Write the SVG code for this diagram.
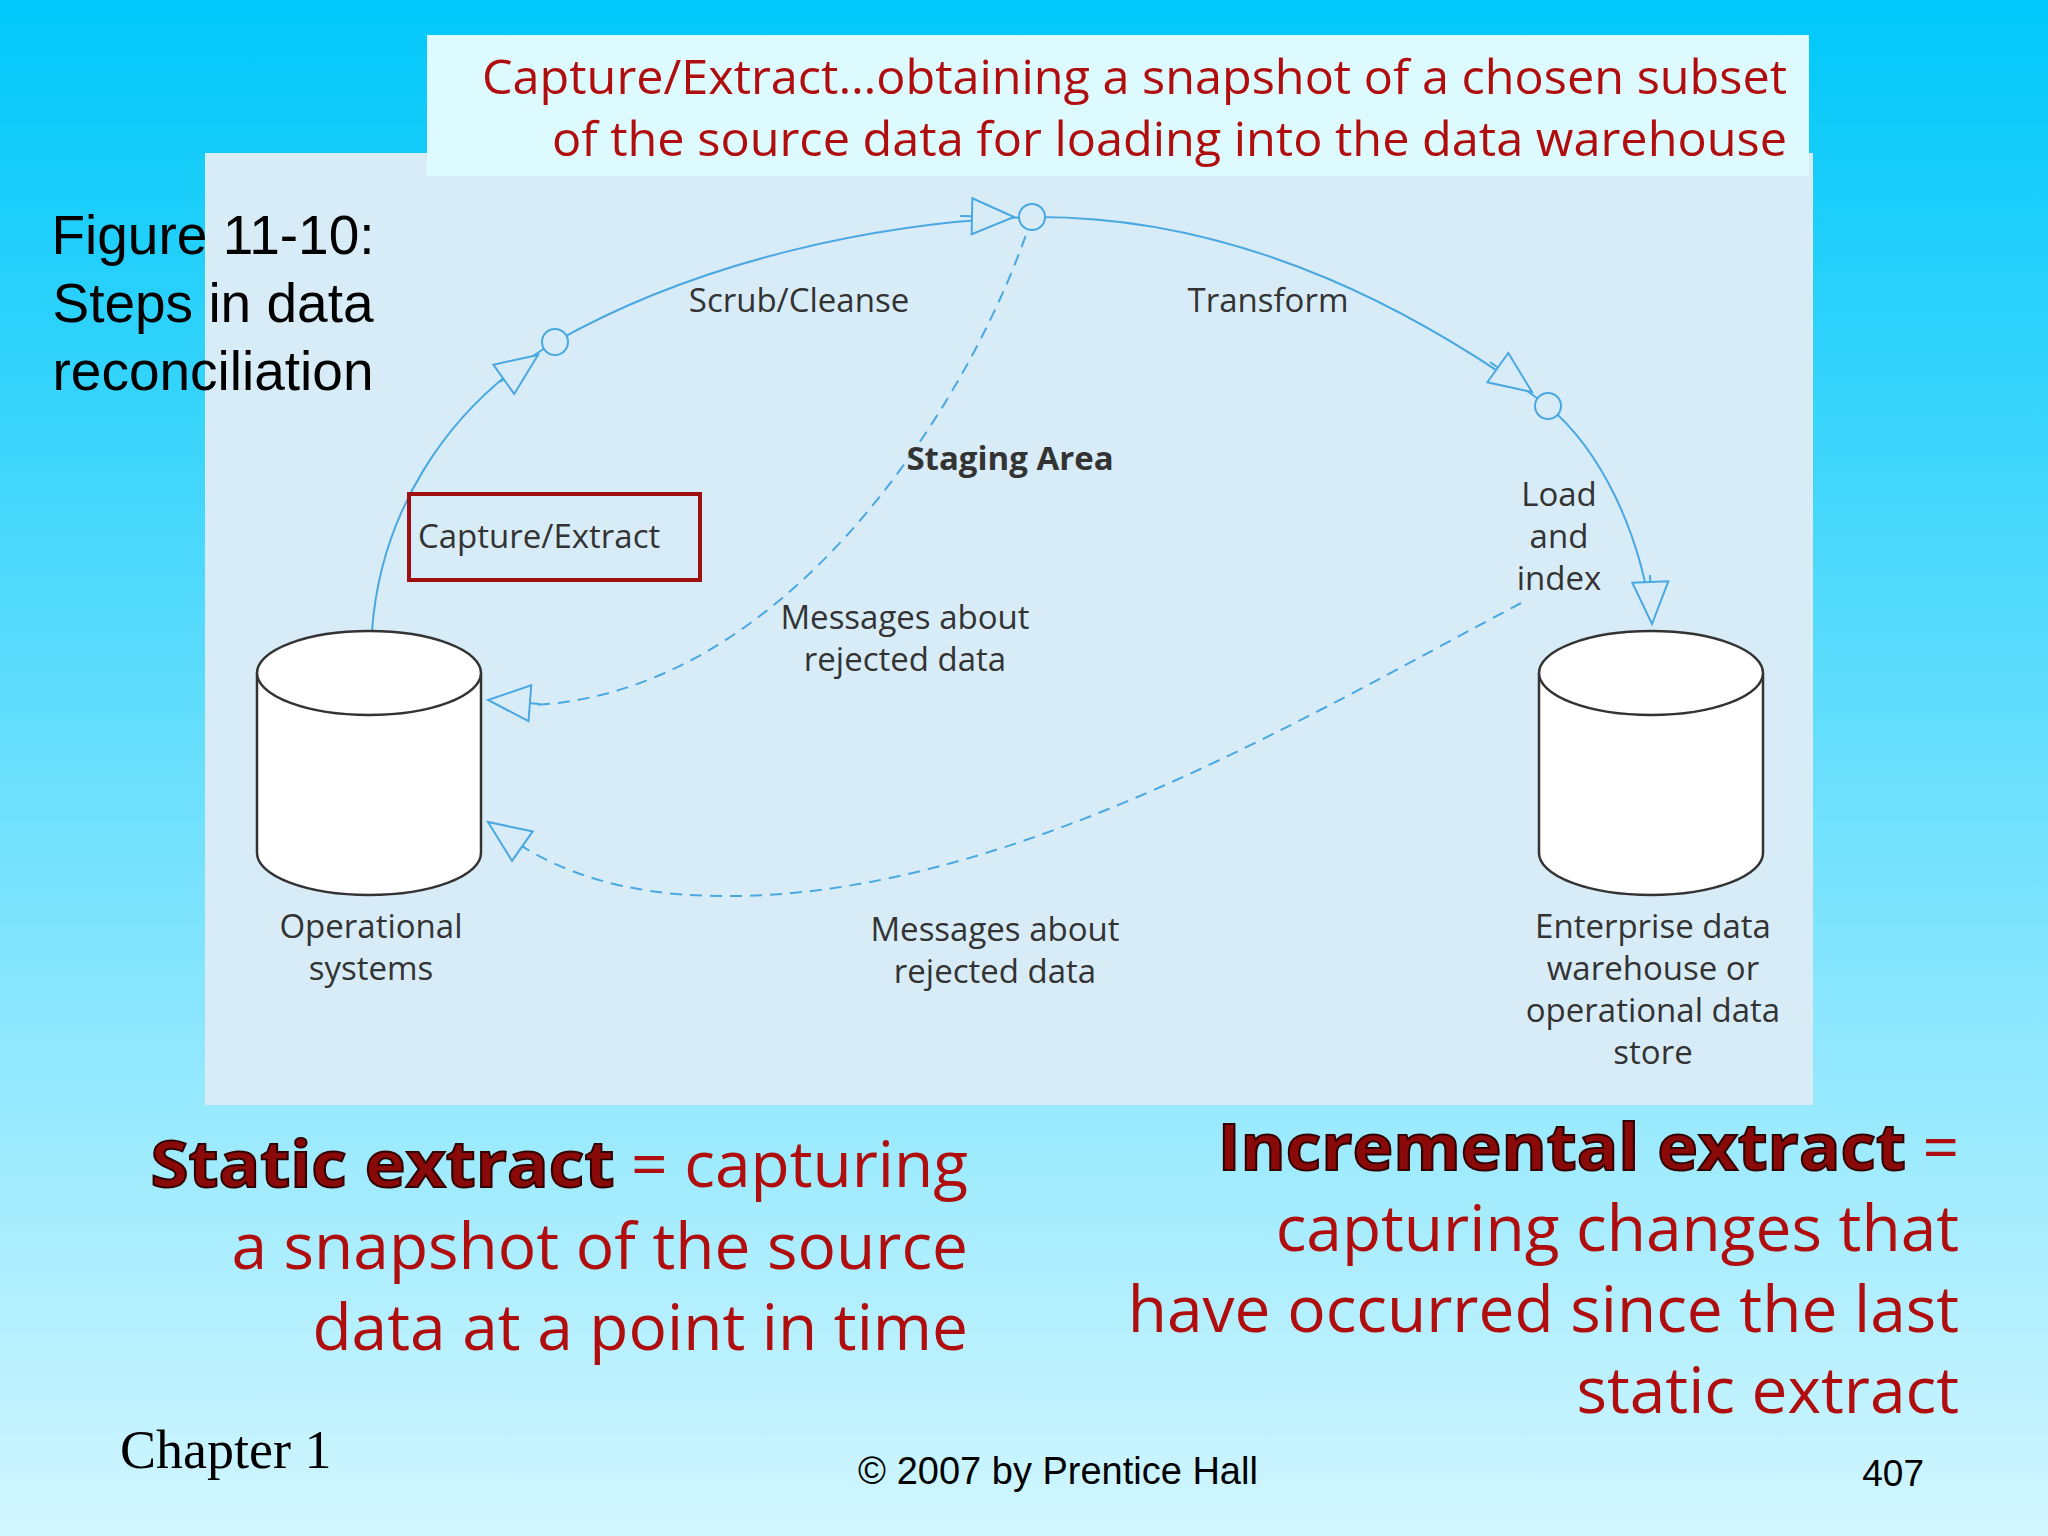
<svg xmlns="http://www.w3.org/2000/svg" width="2048" height="1536" viewBox="0 0 2048 1536">
<defs>
<linearGradient id="bg" x1="0" y1="0" x2="0" y2="1">
<stop offset="0" stop-color="#00C8FA"/><stop offset="1" stop-color="#D2F6FF"/>
</linearGradient>
<marker id="tri" markerUnits="userSpaceOnUse" markerWidth="48" markerHeight="40" refX="42" refY="18" orient="auto" viewBox="-2 -2 48 40">
<path d="M0,0 L42,18 L0,36 Z" fill="#D8ECF8" stroke="#4AA8E0" stroke-width="2"/>
</marker>
<style>
.ln{fill:none;stroke:#4AA8E0;stroke-width:2}
.ds{fill:none;stroke:#4AA8E0;stroke-width:2;stroke-dasharray:12 8}
.lb{font-family:"Open Sans","DejaVu Sans",sans-serif;font-size:33px;fill:#333}
.red{font-family:"Open Sans","Noto Sans",sans-serif;fill:#B00E0E}
.cyl{fill:#fff;stroke:#333;stroke-width:2.5}
.bd{font-weight:bold;fill:#8A0A0A;stroke:#300;stroke-width:2}
</style>
</defs>
<rect width="2048" height="1536" fill="url(#bg)"/>
<rect x="205" y="153" width="1608" height="952" fill="#D8ECF8"/>
<rect x="427" y="35" width="1382" height="141" fill="#DDFAFF"/>
<g id="title" class="red" font-size="48" text-anchor="end">
<text x="1787" y="94" textLength="1305" lengthAdjust="spacingAndGlyphs">Capture/Extract…obtaining a snapshot of a chosen subset</text>
<text x="1787" y="156" textLength="1235" lengthAdjust="spacingAndGlyphs">of the source data for loading into the data warehouse</text>
</g>
<g id="figure" font-family="Liberation Sans,Arial,sans-serif" font-size="55" fill="#000" text-anchor="middle">
<text x="213" y="254">Figure 11-10:</text>
<text x="213" y="322">Steps in data</text>
<text x="213" y="390">reconciliation</text>
</g>
<g id="connectors">
<path class="ln" d="M372,631 C380,520 440,410 555,342 C700,260 880,222 1032,217 C1250,215 1430,320 1548,406 C1600,450 1640,530 1652,622"/>
<path class="ds" d="M1032,217 C980,380 800,690 535,705"/>
<path class="ds" d="M1521,603 C1300,720 1000,900 718,896 C620,895 560,870 520,845"/>
<line class="ln" x1="500" y1="382" x2="538" y2="355" marker-end="url(#tri)"/>
<line class="ln" x1="960" y1="216" x2="1014" y2="217" marker-end="url(#tri)"/>
<line class="ln" x1="1490" y1="362" x2="1532" y2="392" marker-end="url(#tri)"/>
<line class="ln" x1="1650" y1="575" x2="1652" y2="624" marker-end="url(#tri)"/>
<line class="ln" x1="540" y1="704" x2="488" y2="700" marker-end="url(#tri)"/>
<line class="ln" x1="525" y1="848" x2="488" y2="822" marker-end="url(#tri)"/>
<circle cx="555" cy="342" r="13" fill="#D8ECF8" stroke="#4AA8E0" stroke-width="2"/>
<circle cx="1032" cy="217" r="13" fill="#D8ECF8" stroke="#4AA8E0" stroke-width="2"/>
<circle cx="1548" cy="406" r="13" fill="#D8ECF8" stroke="#4AA8E0" stroke-width="2"/>
</g>
<g id="operational">
<path class="cyl" d="M257,673 L257,853 A112,42 0 0 0 481,853 L481,673"/>
<ellipse class="cyl" cx="369" cy="673" rx="112" ry="42"/>
<text class="lb" text-anchor="middle" x="371" y="938">Operational</text>
<text class="lb" text-anchor="middle" x="371" y="980">systems</text>
</g>
<g id="warehouse">
<path class="cyl" d="M1539,673 L1539,853 A112,42 0 0 0 1763,853 L1763,673"/>
<ellipse class="cyl" cx="1651" cy="673" rx="112" ry="42"/>
<g class="lb" text-anchor="middle">
<text x="1653" y="938">Enterprise data</text>
<text x="1653" y="980">warehouse or</text>
<text x="1653" y="1022">operational data</text>
<text x="1653" y="1064">store</text>
</g>
</g>
<g id="capture">
<rect x="409" y="494" width="291" height="86" fill="none" stroke="#A01010" stroke-width="4"/>
<text class="lb" x="418" y="548">Capture/Extract</text>
</g>
<g id="labels" class="lb" text-anchor="middle">
<text x="799" y="312">Scrub/Cleanse</text>
<text x="1268" y="312">Transform</text>
<text x="1010" y="470" font-weight="bold">Staging Area</text>
<text x="1559" y="506">Load</text>
<text x="1559" y="548">and</text>
<text x="1559" y="590">index</text>
<text x="905" y="629">Messages about</text>
<text x="905" y="671">rejected data</text>
<text x="995" y="941">Messages about</text>
<text x="995" y="983">rejected data</text>
</g>
<g id="static" class="red" font-size="64" text-anchor="end">
<text x="968" y="1187"><tspan class="bd" textLength="464" lengthAdjust="spacingAndGlyphs">Static extract</tspan> = capturing</text>
<text x="968" y="1269">a snapshot of the source</text>
<text x="968" y="1350">data at a point in time</text>
</g>
<g id="incremental" class="red" font-size="64" text-anchor="end">
<text x="1959" y="1170"><tspan class="bd" textLength="688" lengthAdjust="spacingAndGlyphs">Incremental extract</tspan> =</text>
<text x="1959" y="1251">capturing changes that</text>
<text x="1959" y="1332">have occurred since the last</text>
<text x="1959" y="1413">static extract</text>
</g>
<g id="footer">
<text x="120" y="1468" font-family="Liberation Serif,Times New Roman,serif" font-size="54">Chapter 1</text>
<text x="1058" y="1484" text-anchor="middle" font-family="Liberation Sans,Arial,sans-serif" font-size="38">© 2007 by Prentice Hall</text>
<text x="1924" y="1486" text-anchor="end" font-family="Liberation Sans,Arial,sans-serif" font-size="37">407</text>
</g>
</svg>
